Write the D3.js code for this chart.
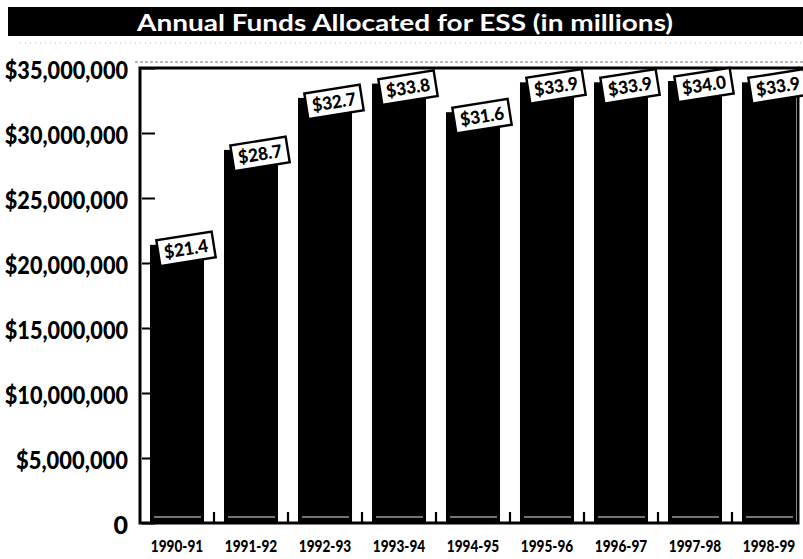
<!DOCTYPE html>
<html>
<head>
<meta charset="utf-8">
<script src="https://cdn.jsdelivr.net/npm/d3@7"></script>
<style>
  html, body { margin: 0; padding: 0; background: #fff; }
  svg { display: block; }
</style>
</head>
<body>
<svg id="chart" width="803" height="559"></svg>
<script>
// ---- data ----
const titleText = "Annual Funds Allocated for ESS (in millions)";
const categories = ["1990-91", "1991-92", "1992-93", "1993-94", "1994-95", "1995-96", "1996-97", "1997-98", "1998-99"];
const values = [21.4, 28.7, 32.7, 33.8, 31.6, 33.9, 33.9, 34.0, 33.9]; // millions of dollars
const valueLabels = ["$21.4", "$28.7", "$32.7", "$33.8", "$31.6", "$33.9", "$33.9", "$34.0", "$33.9"];
const yTickValues = [0, 5, 10, 15, 20, 25, 30, 35]; // millions
const yTickLabels = ["0", "$5,000,000", "$10,000,000", "$15,000,000", "$20,000,000", "$25,000,000", "$30,000,000", "$35,000,000"];

// ---- layout ----
const svg = d3.select("#chart");
const font = "Lato, 'Open Sans', sans-serif";
const frame = { left: 140, right: 798, top: 68, bottom: 523 };

const x = d3.scaleBand()
  .domain(categories)
  .range([150, 796])
  .paddingInner(0.27)
  .paddingOuter(0);

const y = d3.scaleLinear()
  .domain([0, 35])
  .range([frame.bottom, frame.top]);

// title bar
svg.append("rect")
  .attr("x", 8).attr("y", 7).attr("width", 795).attr("height", 29)
  .attr("fill", "#000");
svg.append("text")
  .attr("x", 405).attr("y", 31)
  .attr("text-anchor", "middle")
  .attr("font-family", font).attr("font-weight", 700)
  .attr("font-size", 23)
  .attr("textLength", 536).attr("lengthAdjust", "spacingAndGlyphs")
  .attr("fill", "#fff")
  .text(titleText);

// faint scan lines under the title
svg.append("line")
  .attr("x1", 135).attr("x2", 803).attr("y1", 62).attr("y2", 62)
  .attr("stroke", "#777").attr("stroke-width", 1).attr("stroke-dasharray", "3,2");
svg.append("line")
  .attr("x1", 20).attr("x2", 803).attr("y1", 43).attr("y2", 43)
  .attr("stroke", "#bbb").attr("stroke-width", 1).attr("stroke-dasharray", "1,4");

// bars
const gap = x.step() - x.bandwidth();
svg.append("g").selectAll("rect")
  .data(values)
  .join("rect")
  .attr("x", (d, i) => x(categories[i]))
  .attr("y", d => y(d))
  .attr("width", x.bandwidth())
  .attr("height", d => y(0) - y(d))
  .attr("fill", "#000");

// light floor line inside bars
svg.append("g").selectAll("line")
  .data(categories)
  .join("line")
  .attr("x1", d => x(d) + 4)
  .attr("x2", d => x(d) + x.bandwidth() - 3)
  .attr("y1", y(0) - 6).attr("y2", y(0) - 6)
  .attr("stroke", "#e6e6e6").attr("stroke-width", 1.2);

// separator ticks between bars
svg.append("g").selectAll("line")
  .data(categories)
  .join("line")
  .attr("x1", d => x(d) + x.bandwidth() + gap / 2)
  .attr("x2", d => x(d) + x.bandwidth() + gap / 2)
  .attr("y1", y(0) - 11).attr("y2", y(0))
  .attr("stroke", "#000").attr("stroke-width", 2.2);

// y axis
const yAxis = d3.axisLeft(y)
  .tickValues(yTickValues)
  .tickFormat((d, i) => yTickLabels[i])
  .tickSizeInner(-13)
  .tickSizeOuter(0)
  .tickPadding(12);
const gy = svg.append("g")
  .attr("transform", `translate(${frame.left + 2},0)`)
  .call(yAxis);
gy.select(".domain").remove();
gy.selectAll(".tick line").attr("stroke", "#000").attr("stroke-width", 2);
gy.selectAll(".tick text")
  .attr("x", -14)
  .attr("dy", "0.42em")
  .attr("font-family", font).attr("font-weight", 900)
  .attr("font-size", 25)
  .attr("fill", "#000")
  .each(function (d, i) {
    const lbl = yTickLabels[i];
    if (lbl.length > 1) {
      d3.select(this).attr("textLength", lbl.length * 11.2).attr("lengthAdjust", "spacingAndGlyphs");
    }
  });

// x axis
const xAxis = d3.axisBottom(x).tickSize(0).tickPadding(17);
const gx = svg.append("g")
  .attr("transform", `translate(0,${frame.bottom})`)
  .call(xAxis);
gx.select(".domain").remove();
gx.selectAll(".tick text")
  .attr("font-family", font).attr("font-weight", 900)
  .attr("font-size", 17)
  .attr("fill", "#000")
  .attr("transform", "scale(0.8,1)");

// frame
svg.append("rect")
  .attr("x", frame.left).attr("y", frame.top)
  .attr("width", frame.right - frame.left)
  .attr("height", frame.bottom - frame.top)
  .attr("fill", "none").attr("stroke", "#000").attr("stroke-width", 3);
svg.append("line")
  .attr("x1", frame.right).attr("x2", 803)
  .attr("y1", frame.top).attr("y2", frame.top)
  .attr("stroke", "#000").attr("stroke-width", 3);

// value label boxes
const lbl = svg.append("g").selectAll("g")
  .data(values)
  .join("g")
  .attr("transform", (d, i) => `translate(${x(categories[i]) + x.bandwidth() / 2 + 9},${y(d) + 4}) rotate(-9)`);
lbl.append("rect")
  .attr("x", -28).attr("y", -13).attr("width", 56).attr("height", 26)
  .attr("fill", "#fff").attr("stroke", "#000").attr("stroke-width", 2.4);
lbl.append("text")
  .attr("x", 0).attr("y", 6.5)
  .attr("text-anchor", "middle")
  .attr("font-family", font).attr("font-weight", 900)
  .attr("font-size", 18)
  .attr("textLength", 44).attr("lengthAdjust", "spacingAndGlyphs")
  .attr("fill", "#000")
  .text((d, i) => valueLabels[i]);
</script>
</body>
</html>
